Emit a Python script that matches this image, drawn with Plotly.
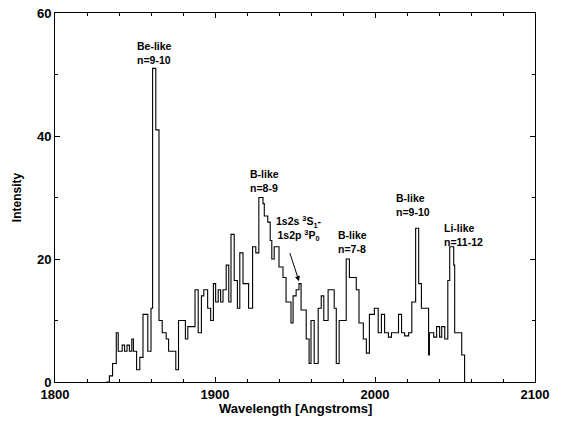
import plotly.graph_objects as go

# Bin start wavelengths (Angstroms) and intensities
wavelength = [
    1832, 1834, 1836, 1838.3, 1839.5, 1842, 1843.5, 1845, 1846.5, 1848,
    1849, 1851, 1853, 1855, 1858, 1860, 1861, 1863, 1865, 1867,
    1869.5, 1871, 1875.5, 1877.2, 1881.5, 1883, 1887.5, 1889.5, 1891.5, 1893,
    1895.4, 1897.3, 1899, 1900.4, 1902, 1903.5, 1905, 1907, 1908.6, 1910,
    1912, 1914, 1915.5, 1917.5, 1921, 1923.5, 1925.5, 1927.4, 1930, 1930.8,
    1933, 1934.5, 1935.5, 1937, 1940, 1942.5, 1944.4, 1947.5, 1948.8, 1950.7,
    1952.5, 1953.8, 1957, 1958.8, 1960, 1962, 1964.5, 1966.4, 1968, 1970.7,
    1974.5, 1975.8, 1977.6, 1982, 1984, 1988.3, 1990, 1992.7, 1994.6, 1996.5,
    1999.6, 2002, 2004, 2006, 2008.4, 2010.3, 2014.7, 2016.6, 2018.5, 2021,
    2023, 2025.4, 2027.3, 2029, 2033.5, 2034, 2036.7, 2038.5, 2040.4, 2041.7,
    2043.6, 2045.5, 2046.7, 2049.2, 2049.8, 2054.2, 2056,
]
intensity = [
    0, 1, 3, 8, 5, 6, 5, 6, 5, 7,
    5, 2, 4, 11, 5, 12, 51, 41, 10, 8,
    7, 5, 2, 10, 7, 9, 15, 8, 14, 15,
    12, 10, 16, 13, 15, 13, 15, 19, 13, 24,
    16.5, 12, 21, 16, 12, 22, 21, 30, 29, 27,
    26, 23, 20, 22, 18.7, 17, 13, 9.6, 14, 15,
    16, 11.7, 7, 3, 10, 3, 12, 14, 10, 15,
    12, 3, 10, 20, 17, 15, 9.6, 7, 4.7, 11,
    12, 8, 11, 8, 7.3, 8, 11, 8, 7.5, 8,
    13, 25, 16, 12, 4.4, 8, 7.3, 9, 7.3, 9,
    7, 16.5, 22, 19, 8, 4.4, 0,
]

# Annotations: label text, x (Angstrom), y (intensity)
label_text = ["Be-like<br>n=9-10", "B-like<br>n=8-9", "B-like<br>n=7-8",
              "B-like<br>n=9-10", "Li-like<br>n=11-12"]
label_x = [1862, 1931, 1986, 2024, 2055]
label_y = [51.1, 30.2, 20.3, 26.3, 21.5]

font_family = "Liberation Sans, Arial, sans-serif"

fig = go.Figure()
fig.add_trace(go.Scatter(
    x=wavelength, y=intensity, mode="lines",
    line=dict(shape="hv", color="black", width=1.1),
    showlegend=False, hoverinfo="skip",
))

for t, x, y in zip(label_text, label_x, label_y):
    fig.add_annotation(x=x, y=y, text="<b>" + t.replace("<br>", "</b><br><b>") + "</b>",
                       showarrow=False, xanchor="center",
                       yanchor="bottom", align="left",
                       font=dict(size=10.5, color="black", family=font_family))

fig.add_annotation(
    x=1952.5, y=16.4, ax=1946.5, ay=21.2, axref="x", ayref="y",
    text="", showarrow=True, arrowhead=2, arrowsize=1, arrowwidth=1,
    arrowcolor="black",
)
fig.add_annotation(
    x=1952, y=22.3,
    text="<b>1s2s <sup>3</sup>S<sub>1</sub>-</b><br><b>1s2p <sup>3</sup>P<sub>0</sub></b>",
    showarrow=False, xanchor="center", yanchor="bottom", align="center",
    font=dict(size=10.5, color="black", family=font_family),
)

# x-axis title placed as a paper annotation for exact vertical position
fig.add_annotation(
    xref="paper", yref="paper", x=0.5, y=-0.0705, yanchor="middle",
    text="<b>Wavelength [Angstroms]</b>", showarrow=False,
    font=dict(size=13, color="black", family=font_family),
)

axis_common = dict(
    showline=True, linecolor="black", linewidth=1, mirror="ticks",
    ticks="inside", ticklen=5, tickwidth=1, tickcolor="black",
    showgrid=False, zeroline=False, automargin=False,
    tickfont=dict(size=13, color="black", family=font_family),
)

fig.update_xaxes(
    range=[1800, 2100], tick0=1800, dtick=100,
    tickprefix="<b>", ticksuffix="</b>",
    minor=dict(ticks="inside", ticklen=3, dtick=20, tickcolor="black"),
    **axis_common,
)
fig.update_yaxes(
    range=[0, 60], tick0=0, dtick=20,
    tickprefix="<b>", ticksuffix="</b>",
    minor=dict(ticks="inside", ticklen=3, dtick=10, tickcolor="black"),
    title=dict(text="<b>Intensity</b>", standoff=12,
               font=dict(size=12, color="black", family=font_family)),
    **axis_common,
)

fig.update_layout(
    width=561, height=422,
    margin=dict(l=55, r=26, t=13, b=40),
    plot_bgcolor="white", paper_bgcolor="white",
)

fig.write_html("out.html", config={"displayModeBar": False},
               post_script="document.body.style.margin='0px';")
